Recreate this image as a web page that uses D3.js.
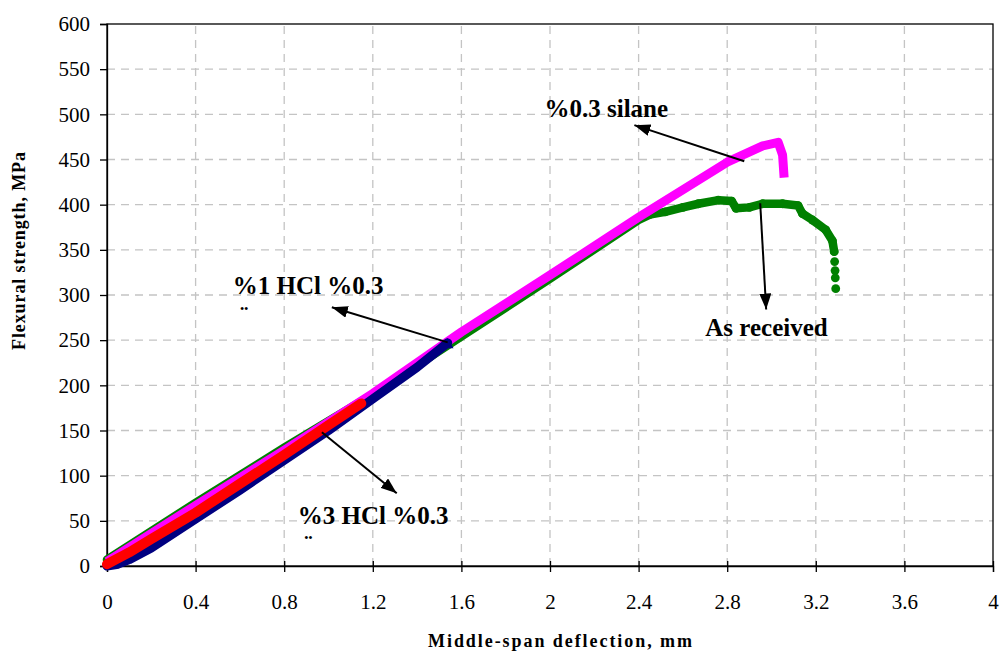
<!DOCTYPE html>
<html>
<head>
<meta charset="utf-8">
<script src="https://cdn.jsdelivr.net/npm/d3@7"></script>
<style>
  body { margin: 0; background: #fff; }
  svg text { font-family: "Liberation Serif", "Times New Roman", serif; }
</style>
</head>
<body>
<script>
// data (deflection mm, strength MPa)
var receivedX = [0, 0.4, 0.8, 1.2, 1.6, 2.0, 2.4, 2.45, 2.52, 2.6, 2.67, 2.76, 2.82, 2.84, 2.9, 2.96, 3.05, 3.12, 3.14, 3.185, 3.245, 3.275, 3.283, 3.285, 3.287, 3.288, 3.29];
var receivedY = [7, 70, 131, 190, 254, 318, 383, 389, 392, 397, 401, 405, 404, 396, 397, 401, 401, 399, 390, 383, 372, 360, 348, 337, 327, 319, 307];

var silaneX = [0, 0.4, 0.8, 1.2, 1.6, 2.0, 2.4, 2.8, 2.96, 3.03, 3.05, 3.057];
var silaneY = [5, 67, 128, 191, 259, 322, 386, 447, 465, 469, 455, 430];

var hcl1X = [0, 0.05, 0.1, 0.2, 0.4, 0.6, 0.8, 1.0, 1.2, 1.4, 1.538];
var hcl1Y = [0, 2, 7, 20, 52, 84, 117, 150, 185, 220, 247];

var hcl3X = [0, 0.1, 0.2, 0.4, 0.6, 0.8, 1.0, 1.148];
var hcl3Y = [2, 15, 30, 59, 91, 123, 156, 180];

var xTicks = [0, 0.4, 0.8, 1.2, 1.6, 2, 2.4, 2.8, 3.2, 3.6, 4];
var yTicks = [0, 50, 100, 150, 200, 250, 300, 350, 400, 450, 500, 550, 600];

// annotations: text position and arrow (from, to) in data units
var notes = [
  { text: "%0.3 silane", x: 1.975, y: 497, from: [2.877, 448], to: [2.381, 488] },
  { text: "As received", x: 2.701, y: 255, from: [2.949, 401.5], to: [2.976, 284] },
  { text: "%1 HCl %0.3", x: 0.568, y: 301, from: [1.538, 247.6], to: [1.015, 286.4], dots: [0.6, 268] },
  { text: "%3 HCl %0.3", x: 0.861, y: 47, from: [0.97, 148], to: [1.308, 80.5], dots: [0.89, 14] }
];

var W = 1002, H = 651;
var margin = { left: 107, right: 9, top: 24, bottom: 85 };
var serif = "Liberation Serif";

var svg = d3.select("body").append("svg")
  .attr("width", W)
  .attr("height", H);

svg.append("rect").attr("width", W).attr("height", H).attr("fill", "#fff");

var x = d3.scaleLinear().domain([0, 4]).range([margin.left, W - margin.right]);
var y = d3.scaleLinear().domain([0, 600]).range([H - margin.bottom, margin.top]);

// grid
svg.append("g").selectAll("line").data(xTicks.slice(1, -1)).enter()
  .append("line")
  .attr("x1", function(d){ return x(d); }).attr("x2", function(d){ return x(d); })
  .attr("y1", y(0)).attr("y2", y(600))
  .attr("stroke", "#c4c4c4").attr("stroke-width", 1.3).attr("stroke-dasharray", "8,6");
svg.append("g").selectAll("line").data(yTicks.slice(1, -1)).enter()
  .append("line")
  .attr("y1", function(d){ return y(d); }).attr("y2", function(d){ return y(d); })
  .attr("x1", x(0)).attr("x2", x(4))
  .attr("stroke", "#c4c4c4").attr("stroke-width", 1.3).attr("stroke-dasharray", "8,6");

// frame
svg.append("rect")
  .attr("x", x(0)).attr("y", y(600))
  .attr("width", x(4) - x(0)).attr("height", y(0) - y(600))
  .attr("fill", "none").attr("stroke", "#000").attr("stroke-width", 1.3);

// axes
var xAxis = svg.append("g")
  .attr("transform", "translate(0," + y(0) + ")")
  .call(d3.axisBottom(x).tickValues(xTicks).tickSize(6).tickPadding(22).tickFormat(d3.format("")));
xAxis.selectAll(".tick line").attr("y1", -5);
var yAxis = svg.append("g")
  .attr("transform", "translate(" + x(0) + ",0)")
  .call(d3.axisLeft(y).tickValues(yTicks).tickSize(7).tickPadding(10));
[xAxis, yAxis].forEach(function(a){
  a.select(".domain").attr("stroke", "#000").attr("stroke-width", 1.3);
  a.selectAll(".tick line").attr("stroke", "#000").attr("stroke-width", 1.3);
  a.selectAll("text").attr("font-family", serif).attr("font-size", 21).attr("fill", "#000");
});

// axis titles
svg.append("text")
  .attr("x", 560).attr("y", 647)
  .attr("text-anchor", "middle")
  .attr("font-family", serif).attr("font-size", 18).attr("font-weight", "bold")
  .attr("textLength", 264).attr("lengthAdjust", "spacing")
  .text("Middle-span deflection, mm");
svg.append("text")
  .attr("transform", "translate(25,251) rotate(-90)")
  .attr("text-anchor", "middle")
  .attr("font-family", serif).attr("font-size", 18).attr("font-weight", "bold")
  .attr("textLength", 198).attr("lengthAdjust", "spacing")
  .text("Flexural strength, MPa");

var line = d3.line()
  .x(function(d){ return x(d[0]); })
  .y(function(d){ return y(d[1]); });

function pairs(xs, ys){ return xs.map(function(v, i){ return [v, ys[i]]; }); }

var received = pairs(receivedX, receivedY);
var silane = pairs(silaneX, silaneY);
var hcl1 = pairs(hcl1X, hcl1Y);
var hcl3 = pairs(hcl3X, hcl3Y);

// As received (green); the last few points stand apart as dots
svg.append("path")
  .datum(received.filter(function(d){ return d[0] <= 3.283; }))
  .attr("d", line).attr("fill", "none")
  .attr("stroke", "#008000").attr("stroke-width", 8.5)
  .attr("stroke-linejoin", "round").attr("stroke-linecap", "round");
svg.append("g").selectAll("circle").data(received.filter(function(d){ return d[0] > 2.4; })).enter()
  .append("circle")
  .attr("cx", function(d){ return x(d[0]); })
  .attr("cy", function(d){ return y(d[1]); })
  .attr("r", 4.4).attr("fill", "#008000");

// %0.3 silane (magenta)
svg.append("path")
  .datum(silane)
  .attr("d", line).attr("fill", "none")
  .attr("stroke", "#ff00ff").attr("stroke-width", 9)
  .attr("stroke-linejoin", "round").attr("stroke-linecap", "butt");

// %1 HCl (navy, triangles)
svg.append("path")
  .datum(hcl1)
  .attr("d", line).attr("fill", "none")
  .attr("stroke", "#000080").attr("stroke-width", 9)
  .attr("stroke-linejoin", "round").attr("stroke-linecap", "round");
var last1 = hcl1[hcl1.length - 1];
svg.append("path")
  .attr("d", d3.symbol().type(d3.symbolTriangle).size(60))
  .attr("transform", "translate(" + x(last1[0]) + "," + (y(last1[1]) + 2) + ")")
  .attr("fill", "#000080");

// %3 HCl (red)
svg.append("path")
  .datum(hcl3)
  .attr("d", line).attr("fill", "none")
  .attr("stroke", "#ff0000").attr("stroke-width", 10)
  .attr("stroke-linejoin", "round").attr("stroke-linecap", "round");

// annotations
svg.append("defs").append("marker")
  .attr("id", "head")
  .attr("markerUnits", "userSpaceOnUse")
  .attr("viewBox", "0 0 16 12")
  .attr("refX", 16).attr("refY", 6)
  .attr("markerWidth", 16).attr("markerHeight", 12)
  .attr("orient", "auto")
  .append("path").attr("d", "M0,0L16,6L0,12Z").attr("fill", "#000");

notes.forEach(function(n){
  svg.append("line")
    .attr("x1", x(n.from[0])).attr("y1", y(n.from[1]))
    .attr("x2", x(n.to[0])).attr("y2", y(n.to[1]))
    .attr("stroke", "#000").attr("stroke-width", 2)
    .attr("marker-end", "url(#head)");
  svg.append("text")
    .attr("x", x(n.x)).attr("y", y(n.y))
    .attr("font-family", serif).attr("font-size", 25).attr("font-weight", "bold")
    .text(n.text);
  if (n.dots) {
    svg.append("text")
      .attr("x", x(n.dots[0])).attr("y", y(n.dots[1]))
      .attr("font-family", serif).attr("font-size", 25).attr("font-weight", "bold")
      .text("¨");
  }
});
</script>
</body>
</html>
